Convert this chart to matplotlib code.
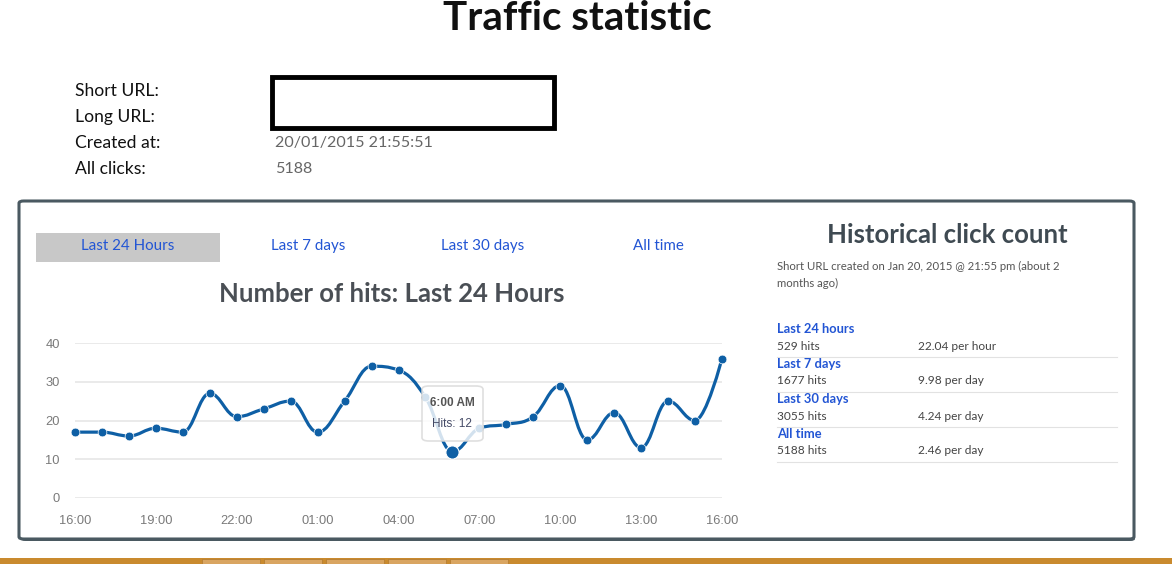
import numpy as np
import matplotlib.pyplot as plt
from matplotlib.path import Path
from matplotlib.patches import PathPatch, FancyBboxPatch, Rectangle

W, H = 1172, 564

# data
hours = ["16:00", "17:00", "18:00", "19:00", "20:00", "21:00", "22:00", "23:00",
         "00:00", "01:00", "02:00", "03:00", "04:00", "05:00", "06:00", "07:00",
         "08:00", "09:00", "10:00", "11:00", "12:00", "13:00", "14:00", "15:00", "16:00"]
hits = [17, 17, 16, 18, 17, 27, 21, 23, 25, 17, 25, 34, 33, 26, 12, 18,
        19, 21, 29, 15, 22, 13, 25, 20, 36]
yticks = [0, 10, 20, 30, 40]
tabs = ["Last 24 Hours", "Last 7 days", "Last 30 days", "All time"]
info_labels = ["Short URL:", "Long URL:", "Created at:", "All clicks:"]
info_values = ["", "", "20/01/2015 21:55:51", "5188"]
hist_periods = ["Last 24 hours", "Last 7 days", "Last 30 days", "All time"]
hist_hits = ["529 hits", "1677 hits", "3055 hits", "5188 hits"]
hist_rates = ["22.04 per hour", "9.98 per day", "4.24 per day", "2.46 per day"]
tip_idx = 14

plt.rcParams['font.family'] = ['Lato', 'DejaVu Sans']

fig = plt.figure(figsize=(W / 100, H / 100), dpi=100)

def fx(x):
    return x / W

def fy(y):
    return 1 - y / H

def ftext(x, y, s, **kw):
    kw.setdefault('va', 'center')
    fig.text(fx(x), fy(y), s, **kw)

# page title and info block
ftext(577, 18, "Traffic statistic", ha='center', fontsize=29, fontweight='bold', color='#111111')
for i, (lab, val) in enumerate(zip(info_labels, info_values)):
    ftext(75, 91 + i * 26, lab, fontsize=12.6, color='#111111')
    ftext(275, 91 + i * 26, val, fontsize=11.6, color='#666666')
fig.patches.append(Rectangle((fx(272), fy(128)), fx(282), 51 / H, transform=fig.transFigure,
                             fill=False, edgecolor='black', linewidth=3.5))

# panel with shadow
fig.patches.append(FancyBboxPatch((fx(21), fy(541)), fx(1114), 338 / H, transform=fig.transFigure,
                                  boxstyle="round,pad=0,rounding_size=0.004",
                                  facecolor='#4a5961', edgecolor='none', zorder=-2))
fig.patches.append(FancyBboxPatch((fx(19), fy(539)), fx(1115), 338 / H, transform=fig.transFigure,
                                  boxstyle="round,pad=0,rounding_size=0.004",
                                  facecolor='white', edgecolor='#4a5961', linewidth=2.2, zorder=-1))

# bottom strip
fig.patches.append(Rectangle((0, 0), 1, 6 / H, transform=fig.transFigure,
                             facecolor='#c98a2e', edgecolor='none'))
for x0 in [202, 264, 326, 388, 450]:
    fig.patches.append(Rectangle((fx(x0), 0), fx(58), 5 / H, transform=fig.transFigure,
                                 facecolor='#d9a561', edgecolor='#b07a30', linewidth=0.5))

# tabs
fig.patches.append(Rectangle((fx(36), fy(262)), fx(184), 29 / H, transform=fig.transFigure,
                             facecolor='#c8c8c8', edgecolor='none'))
for t, x in zip(tabs, [128, 308, 483, 658]):
    ftext(x, 246, t, ha='center', fontsize=10.9, color='#2255d4')

ftext(392, 294, "Number of hits: Last 24 Hours", ha='center', fontsize=18.5,
      fontweight='bold', color='#4a4f55')

# right panel
ftext(947, 235, "Historical click count", ha='center', fontsize=18.5, fontweight='bold', color='#3f4a52')
ftext(777, 266, "Short URL created on Jan 20, 2015 @ 21:55 pm (about 2", fontsize=8.2, color='#555555')
ftext(777, 283, "months ago)", fontsize=8.2, color='#555555')
for i in range(4):
    y0 = 329 + i * 35
    ftext(777, y0, hist_periods[i], fontsize=9.3, fontweight='bold', color='#2255d4')
    ftext(777, y0 + 17, hist_hits[i], fontsize=8.6, color='#444444')
    ftext(918, y0 + 17, hist_rates[i], fontsize=8.6, color='#444444')
    fig.add_artist(plt.Line2D([fx(777), fx(1117)], [fy(y0 + 28)] * 2, transform=fig.transFigure,
                              color='#e2e2e2', linewidth=0.8))

# chart
ax = fig.add_axes([fx(75), fy(498), fx(722 - 75), (498 - 343) / H])
ax.set_zorder(2)
ax.patch.set_alpha(0)
x = np.arange(len(hits))
y = np.array(hits, dtype=float)
ax.set_xlim(0, len(hits) - 1)
ax.set_ylim(0, 40)
for s in ax.spines.values():
    s.set_visible(False)
ax.set_yticks(yticks)
ax.set_xticks(x[::3])
ax.set_xticklabels(hours[::3])
ax.tick_params(length=0, labelsize=9.3, labelcolor='#7a7a7a', pad=12)
ax.tick_params(axis='y', pad=11)
for lab in ax.get_yticklabels() + ax.get_xticklabels():
    lab.set_family(['Liberation Sans', 'DejaVu Sans'])
ax.grid(axis='y', color='#e6e6e6', linewidth=1.2)
ax.set_axisbelow(True)

# spline like the web chart library
sm, den = 1.5, 2.5
verts = [(x[0], y[0])]
codes = [Path.MOVETO]
rc_prev = (x[0], y[0])
for i in range(1, len(x)):
    px, py = x[i], y[i]
    if i < len(x) - 1:
        lx, ly = x[i - 1], y[i - 1]
        nx, ny = x[i + 1], y[i + 1]
        lcx, lcy = (sm * px + lx) / den, (sm * py + ly) / den
        rcx, rcy = (sm * px + nx) / den, (sm * py + ny) / den
        corr = (rcy - lcy) * (rcx - px) / (rcx - lcx) + py - rcy
        lcy += corr
        rcy += corr
        if lcy > ly and lcy > py:
            lcy = max(ly, py)
            rcy = 2 * py - lcy
        elif lcy < ly and lcy < py:
            lcy = min(ly, py)
            rcy = 2 * py - lcy
        if rcy > ny and rcy > py:
            rcy = max(ny, py)
            lcy = 2 * py - rcy
        elif rcy < ny and rcy < py:
            rcy = min(ny, py)
            lcy = 2 * py - rcy
    else:
        lcx, lcy, rcx, rcy = px, py, px, py
    verts += [rc_prev, (lcx, lcy), (px, py)]
    codes += [Path.CURVE4] * 3
    rc_prev = (rcx, rcy)

blue = '#0e5fa5'
ax.add_patch(PathPatch(Path(verts, codes), facecolor='none', edgecolor=blue,
                       linewidth=2.3, clip_on=False, zorder=3))
ax.plot(x, y, 'o', color=blue, markersize=6.3, markeredgecolor='white',
        markeredgewidth=0.5, clip_on=False, zorder=4)
ax.plot(x[tip_idx], y[tip_idx], 'o', color=blue, markersize=9.5, markeredgecolor='white',
        markeredgewidth=0.8, clip_on=False, zorder=6)

# tooltip
fig.patches.append(FancyBboxPatch((fx(422), fy(441)), fx(61), 55 / H, transform=fig.transFigure,
                                  boxstyle="round,pad=0,rounding_size=0.006",
                                  facecolor='white', alpha=0.82, edgecolor='#d8d8d8',
                                  linewidth=1.2, zorder=5))
ftext(452, 403, "6:00 AM", ha='center', fontsize=8.5, fontweight='bold', color='#555555',
      family=['Liberation Sans', 'DejaVu Sans'], zorder=7)
ftext(452, 424, "Hits: %d" % hits[tip_idx], ha='center', fontsize=8.5, color='#444a66',
      family=['Liberation Sans', 'DejaVu Sans'], zorder=7)

fig.savefig("out.png", dpi=100)
